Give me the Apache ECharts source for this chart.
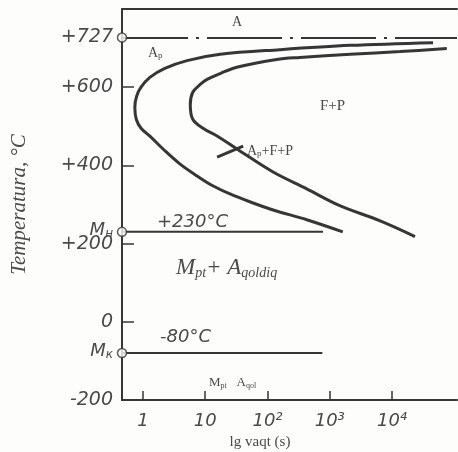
<!DOCTYPE html>
<html><head><meta charset="utf-8">
<script src="https://cdn.jsdelivr.net/npm/echarts@6/dist/echarts.min.js"></script>
<style>html,body{margin:0;padding:0;background:#fdfdfb}#c{width:458px;height:452px}</style>
</head><body><div id="c"></div>
<script>
// C-curve: start of transformation (time in s, temperature in °C)
const startTime = [45700, 2140, 158, 17.4, 5.1, 2.24, 1.29, 0.93, 0.79, 0.74, 0.78, 0.93, 1.29, 2.1, 3.9, 7.4, 13.2, 25, 52, 123, 427, 1620];
const startTemp = [714, 707, 696, 684, 668, 648, 625, 600, 577, 549, 518, 495, 475, 442, 404, 373, 348, 327, 307, 286, 261, 230];
// C-curve: end of transformation
const finishTime = [75900, 13500, 2140, 331, 141, 32, 17.4, 10.7, 8.3, 6.3, 5.75, 6.3, 9.2, 15.5, 36, 123, 427, 1450, 6460, 23400];
const finishTemp = [699, 691, 684, 676, 671, 651, 635, 620, 607, 587, 556, 518, 495, 475, 437, 383, 340, 297, 258, 218];
// short marker crossing the end curve (Ap+F+P)
const crossTime = [15.5, 40.7];
const crossTemp = [421, 449];
// characteristic temperatures
const a1Temp = 727;
const msTemp = 230;
const mfTemp = -80;
const msLineEndTime = 780;
const mfLineEndTime = 760;
// axes
const timeMin = 0.46, timeMax = 110700;
const tempMin = -200, tempMax = 800;
const xTickTimes = [1, 10, 100, 1000, 10000];
const xTickLabels = ['1', '10', '10²', '10³', '10⁴'];
const yTickValues = [0, 200, 400, 600];
const yLabelValues = [727, 600, 400, 230, 200, 0, -80, -200];
const yLabelTexts = ['+727', '+600', '+400', 'Mн', '+200', '0', 'Mк', '-200'];

const ink = '#363636';
const txtInk = '#4a4a4a';
const lg = t => Math.log10(t);
const xMin = lg(timeMin), xMax = lg(timeMax);
const pts = (ts, vs) => ts.map((t, i) => [lg(t), vs[i]]);

const chart = echarts.init(document.getElementById('c'), null, {renderer: 'canvas'});

const numFont = 'DejaVu Sans';
const serif = 'Liberation Serif';

function txt(x, y, text, font, rich) {
  const s = {text: text, font: font, fill: txtInk, verticalAlign: 'middle', align: 'left'};
  if (rich) s.rich = rich;
  return {type: 'text', x: x, y: y, style: s, z: 10};
}
const subRich = (big, small, fam, style) => ({
  a: {fontSize: big, fontFamily: fam, fontStyle: style, color: txtInk},
  p: {fontSize: small, fontFamily: fam, fontStyle: style, color: txtInk, padding: [Math.round(big * 0.45), 0, 0, 0]}
});

chart.setOption({
  animation: false,
  backgroundColor: '#fdfdfb',
  grid: {left: 122, right: 1, top: 9, bottom: 52, containLabel: false, outerBoundsMode: 'none'},
  xAxis: [{
    type: 'value', min: xMin, max: xMax,
    name: 'lg vaqt (s)', nameLocation: 'middle', nameGap: 25,
    nameTextStyle: {fontFamily: serif, fontSize: 15, color: txtInk, padding: [0, 59, 0, 0]},
    axisLine: {show: true, onZero: false, lineStyle: {color: ink, width: 2}},
    axisTick: {show: true, inside: true, length: 9, customValues: xTickTimes.map(lg), lineStyle: {color: ink, width: 1.5}},
    axisLabel: {
      customValues: xTickTimes.map(lg), margin: 12,
      fontFamily: numFont, fontStyle: 'italic', fontSize: 18, color: txtInk,
      formatter: v => {
        const i = xTickTimes.findIndex(t => Math.abs(lg(t) - v) < 1e-6);
        return i >= 0 ? xTickLabels[i] : '';
      }
    },
    splitLine: {show: false}
  }, {
    type: 'value', min: xMin, max: xMax, position: 'top',
    axisLine: {show: true, onZero: false, lineStyle: {color: ink, width: 2}},
    axisTick: {show: false}, axisLabel: {show: false}, splitLine: {show: false}
  }],
  yAxis: {
    type: 'value', min: tempMin, max: tempMax,
    name: 'Temperatura, °C', nameLocation: 'middle', nameGap: 92, nameRotate: 90,
    nameTextStyle: {fontFamily: serif, fontStyle: 'italic', fontSize: 21, color: txtInk},
    axisLine: {show: true, onZero: false, lineStyle: {color: ink, width: 2}},
    axisTick: {show: true, inside: true, length: 12, customValues: yTickValues, lineStyle: {color: ink, width: 1.5}},
    axisLabel: {
      customValues: yLabelValues, margin: 9,
      fontFamily: numFont, fontStyle: 'italic', fontSize: 19, color: txtInk,
      formatter: v => {
        const i = yLabelValues.indexOf(v);
        if (i < 0) return '';
        const t = yLabelTexts[i];
        if (t.charAt(0) === 'M') return '{m|M}{s|' + t.slice(1) + '}';
        return t;
      },
      rich: {
        m: {fontFamily: numFont, fontStyle: 'italic', fontSize: 18, color: txtInk, padding: [0, 0, 4, 0]},
        s: {fontFamily: numFont, fontStyle: 'italic', fontSize: 12, color: txtInk, padding: [4, 0, 0, 0]}
      }
    },
    splitLine: {show: false}
  },
  graphic: [
    txt(232, 22, 'A', '14px "Liberation Serif"'),
    txt(148, 53, '{a|A}{p|p}', '14px "Liberation Serif"', subRich(14, 9, serif, 'normal')),
    txt(320, 106, 'F+P', '15px "Liberation Serif"'),
    txt(247, 151, '{a|A}{p|p}{a|+F+P}', '14px "Liberation Serif"', subRich(14, 9, serif, 'normal')),
    txt(157, 222, '+230°C', 'italic 18px "DejaVu Sans"'),
    txt(176, 268, '{a|M}{p|pt}{a|+ A}{p|qoldiq}', 'italic 23px "Liberation Serif"', subRich(23, 14, serif, 'italic')),
    txt(160, 337, '-80°C', 'italic 18px "DejaVu Sans"'),
    txt(209, 383, '{a|M}{p|pt}{a|   A}{p|qol}', '13px "Liberation Serif"', subRich(13, 8, serif, 'normal'))
  ],
  series: [
    {
      name: 'start', type: 'line', smooth: 0.35, showSymbol: false,
      data: pts(startTime, startTemp),
      lineStyle: {color: ink, width: 3}
    },
    {
      name: 'finish', type: 'line', smooth: 0.35, showSymbol: false,
      data: pts(finishTime, finishTemp),
      lineStyle: {color: ink, width: 3}
    },
    {
      name: 'cross', type: 'line', showSymbol: false,
      data: pts(crossTime, crossTemp),
      lineStyle: {color: ink, width: 3}
    },
    {
      name: 'A1', type: 'line', data: [],
      markLine: {
        silent: true, symbol: ['none', 'none'], label: {show: false},
        lineStyle: {color: ink, width: 2, type: [75, 8, 3, 8], dashOffset: 9},
        data: [{yAxis: a1Temp}]
      }
    },
    {
      name: 'Ms', type: 'line', showSymbol: false,
      data: [[xMin, msTemp], [lg(msLineEndTime), msTemp]],
      lineStyle: {color: ink, width: 2}
    },
    {
      name: 'Mf', type: 'line', showSymbol: false,
      data: [[xMin, mfTemp], [lg(mfLineEndTime), mfTemp]],
      lineStyle: {color: ink, width: 2}
    },
    {
      name: 'points', type: 'scatter', clip: false, symbol: 'circle', symbolSize: 9, z: 5,
      data: [[xMin, a1Temp], [xMin, msTemp], [xMin, mfTemp]],
      itemStyle: {color: '#fdfdfb', borderColor: ink, borderWidth: 1.5}
    }
  ]
});
</script>
</body></html>
